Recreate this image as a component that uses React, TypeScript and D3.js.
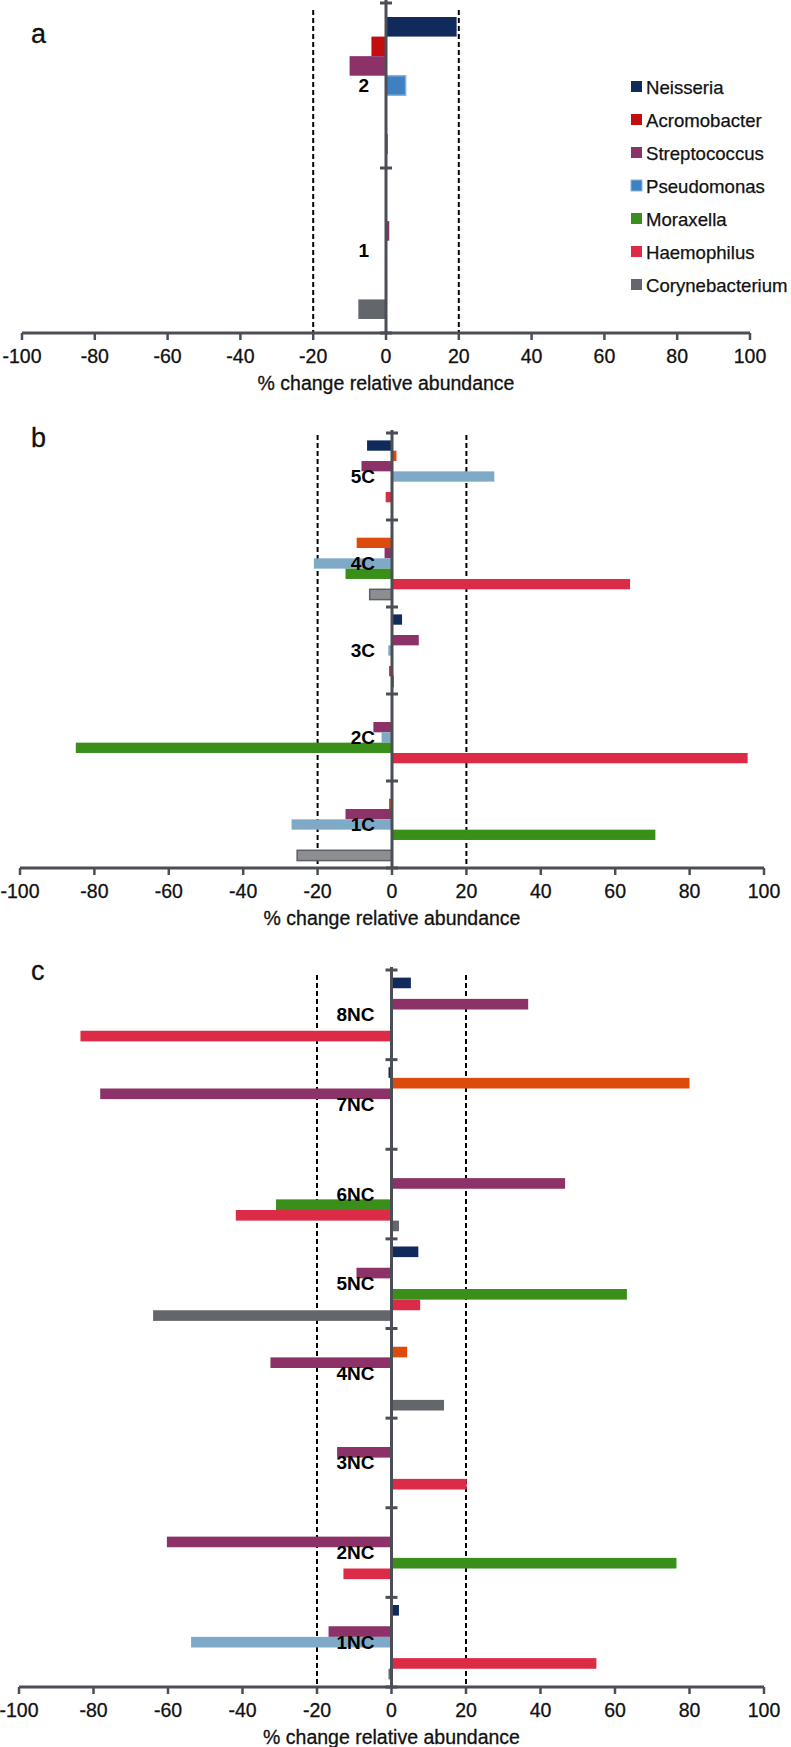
import React from "react";
import * as d3 from "d3";

const series = ["Neisseria", "Acromobacter", "Streptococcus", "Pseudomonas", "Moraxella", "Haemophilus", "Corynebacterium"];

const catsA = ["2", "1"];
const valuesA = [
  [19.4, -4, -10, 5.4, 0, 0, 0.5],
  [0, 0, 0.9, 0, 0, 0.3, -7.6],
];

const catsB = ["5C", "4C", "3C", "2C", "1C"];
const valuesB = [
  [-6.7, 1.2, -8.2, 27.5, 0, -1.7, 0],
  [0, -9.5, -2, -21, -12.5, 64, -6],
  [2.7, 0, 7.2, -1, 0, -0.8, 0.3],
  [0, 0, -5, -2.8, -85, 95.6, 0],
  [0, -0.8, -12.5, -27, 70.8, 0, -25.5],
];

const catsC = ["8NC", "7NC", "6NC", "5NC", "4NC", "3NC", "2NC", "1NC"];
const valuesC = [
  [5.2, 0, 36.7, 0, 0, -83.5, 0],
  [-0.8, 80, -78.2, 0, 0, -0.4, 0],
  [0, 0, 46.6, 0, -31, -41.8, 2],
  [7.2, 0, -9.4, 0, 63.2, 7.7, -64],
  [0, 4.2, -32.5, 0, 0, 0, 14.1],
  [0, 0, -14.6, 0, 0, 20.2, 0],
  [0, 0, -60.3, 0, 76.5, -12.9, 0],
  [2, 0, -16.9, -53.8, 0, 55, -0.8],
];

const xTicks = [-100, -80, -60, -40, -20, 0, 20, 40, 60, 80, 100];
const thresholds = [-20, 20];

const colorsA = ["#0f2a5b", "#c20e0e", "#8c3268", "#3f80c2", "#3a8f1b", "#dc2b46", "#63666b"];
const strokesA = ["#0f2a5b", "#c20e0e", "#8c3268", "#86b3dd", "#3a8f1b", "#dc2b46", "#63666b"];
const colorsB = ["#0f2a5b", "#dc4a0c", "#8c3268", "#7eaac8", "#3a8f1b", "#dc2b46", "#8d8e92"];
const strokesB = ["#0f2a5b", "#dc4a0c", "#8c3268", "#7eaac8", "#3a8f1b", "#dc2b46", "#5c5f65"];
const colorsC = ["#0f2a5b", "#dc4a0c", "#8c3268", "#7eaac8", "#3a8f1b", "#dc2b46", "#63666b"];

const FONT = "'Liberation Sans', Arial, Helvetica, sans-serif";
const AXIS = "#4b4f55";
const TXT = "#111";

type PanelProps = {
  label: string;
  cats: string[];
  values: number[][];
  colors: string[];
  strokes: string[];
  x0: number;
  x1: number;
  top: number;
  bottom: number;
  dashTop: number;
  labelY: number;
};

function Panel({ label, cats, values, colors, strokes, x0, x1, top, bottom, dashTop, labelY }: PanelProps) {
  const x = d3.scaleLinear().domain([-100, 100]).range([x0, x1]);
  const yCat = d3.scaleBand<string>().domain(cats).range([top, bottom]).padding(0);
  const bw = yCat.bandwidth();
  const pad = bw * 0.085;
  const zero = x(0);
  const catEdges = [...cats.map((c) => yCat(c) as number), bottom];
  return (
    <g>
      <text x={31} y={labelY} fontFamily={FONT} fontSize={27} fill={TXT} stroke={TXT} strokeWidth={0.3}>{label}</text>
      {thresholds.map((t) => (
        <line key={t} x1={x(t)} x2={x(t)} y1={dashTop} y2={bottom} stroke="#000" strokeWidth={2} strokeDasharray="5,3" />
      ))}
      {cats.map((c, ci) => {
        const cy = yCat(c) as number;
        const inner = d3.scaleBand<string>().domain(series).range([cy + pad, cy + bw - pad]).padding(0);
        return series.map((s, si) => {
          const v = values[ci][si];
          if (v === 0) return null;
          const xa = Math.min(x(v), zero);
          const w = Math.abs(x(v) - zero);
          return (
            <rect
              key={c + s}
              x={xa}
              y={inner(s)}
              width={w}
              height={inner.bandwidth()}
              fill={colors[si]}
              stroke={strokes[si]}
              strokeWidth={strokes[si] !== colors[si] ? 1.5 : 0}
            />
          );
        });
      })}
      <line x1={x(-100)} x2={x(100)} y1={bottom} y2={bottom} stroke={AXIS} strokeWidth={3} />
      {xTicks.map((t) => (
        <g key={t}>
          <line x1={x(t)} x2={x(t)} y1={bottom} y2={bottom + 7} stroke={AXIS} strokeWidth={2.5} />
          <text x={x(t)} y={bottom + 30} textAnchor="middle" fontFamily={FONT} fontSize={19.5} fill={TXT} stroke={TXT} strokeWidth={0.3}>{t}</text>
        </g>
      ))}
      <text x={zero} y={bottom + 57} textAnchor="middle" fontFamily={FONT} fontSize={19.5} fill={TXT} stroke={TXT} strokeWidth={0.3}>% change relative abundance</text>
      <line x1={zero} x2={zero} y1={top - 3} y2={bottom} stroke={AXIS} strokeWidth={3} />
      {catEdges.map((e, i) => (
        <line key={i} x1={zero - 6} x2={zero + 6} y1={e} y2={e} stroke={AXIS} strokeWidth={3} />
      ))}
      {cats.map((c) => (
        <text key={c} x={zero - 17} y={(yCat(c) as number) + bw / 2 + 6.5} textAnchor="end" fontFamily={FONT} fontSize={19} fontWeight="bold" fill="#000">{c}</text>
      ))}
    </g>
  );
}

export default function App() {
  return (
    <svg width={791} height={1747} style={{ position: "absolute", left: 0, top: 0, background: "#fff" }}>
      <rect x={0} y={0} width={791} height={1747} fill="#fff" />
      <Panel label="a" cats={catsA} values={valuesA} colors={colorsA} strokes={strokesA} x0={22} x1={750} top={3} bottom={333} dashTop={10} labelY={43} />
      <Panel label="b" cats={catsB} values={valuesB} colors={colorsB} strokes={strokesB} x0={20} x1={764} top={433} bottom={868} dashTop={435} labelY={447} />
      <Panel label="c" cats={catsC} values={valuesC} colors={colorsC} strokes={colorsC} x0={19} x1={764} top={970} bottom={1687} dashTop={975} labelY={980} />
      {series.map((s, i) => (
        <g key={s}>
          <rect x={631} y={81 + i * 33} width={11} height={11} fill={colorsA[i]} stroke={strokesA[i]} strokeWidth={strokesA[i] !== colorsA[i] ? 1 : 0} />
          <text x={646} y={93.5 + i * 33} fontFamily={FONT} fontSize={18.6} fill={TXT} stroke={TXT} strokeWidth={0.25}>{s}</text>
        </g>
      ))}
    </svg>
  );
}
